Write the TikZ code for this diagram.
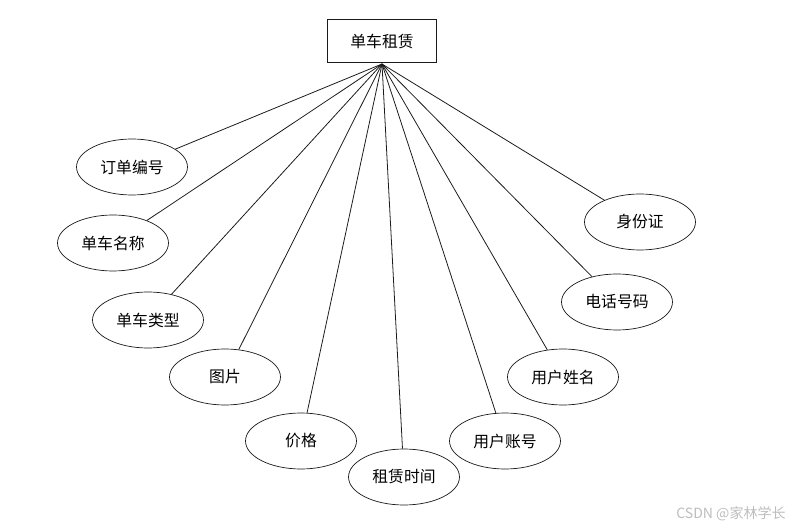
\documentclass[tikz,border=0pt]{standalone}
\usepackage{fontspec}
\usepackage{tikz}
\usetikzlibrary{shapes.geometric}
\newfontfamily\cjk{Noto Sans CJK SC}
\definecolor{bk90}{HTML}{1A1A1A}
\definecolor{wmark}{HTML}{BDBDBD}
\tikzset{
  entitybox/.style={
    rectangle, draw=bk90, thin,
    minimum width=2.18cm, minimum height=0.86cm,
    font=\cjk\fontsize{9}{10}\selectfont, inner sep=2pt
  },
  attrnode/.style={
    ellipse, draw=bk90, thin,
    minimum width=2.22cm, minimum height=1.12cm,
    font=\cjk\fontsize{9}{10}\selectfont, inner sep=1pt
  },
  attrline/.style={draw=bk90, line width=0.45pt},
}

\begin{document}
\begin{tikzpicture}[x=0.02cm, y=-0.02cm]
  \useasboundingbox (0,0) rectangle (805,530);

  % entity
  \node[entitybox] (rent) at (382,41) {单车租赁};
  \coordinate (hub) at (382,64);

  % attributes, left side
  \node[attrnode] (orderno) at (132,167) {订单编号};
  \node[attrnode] (bikename) at (113,243) {单车名称};
  \node[attrnode] (biketype) at (148,320) {单车类型};
  \node[attrnode] (photo) at (225,377) {图片};
  \node[attrnode] (price) at (301,441) {价格};
  \node[attrnode] (renttime) at (404,477) {租赁时间};

  % attributes, right side
  \node[attrnode] (account) at (505,441) {用户账号};
  \node[attrnode] (username) at (563,377) {用户姓名};
  \node[attrnode] (phone) at (617,302) {电话号码};
  \node[attrnode] (idcard) at (640,222) {身份证};

  % connectors
  \foreach \attr in {orderno,bikename,biketype,photo,price,renttime,account,username,phone,idcard}
    \draw[attrline] (hub) -- (\attr);

  \node[font=\cjk\fontsize{8}{9}\selectfont, text=wmark] (wm) at (731,514) {CSDN @家林学长};
\end{tikzpicture}
\end{document}
